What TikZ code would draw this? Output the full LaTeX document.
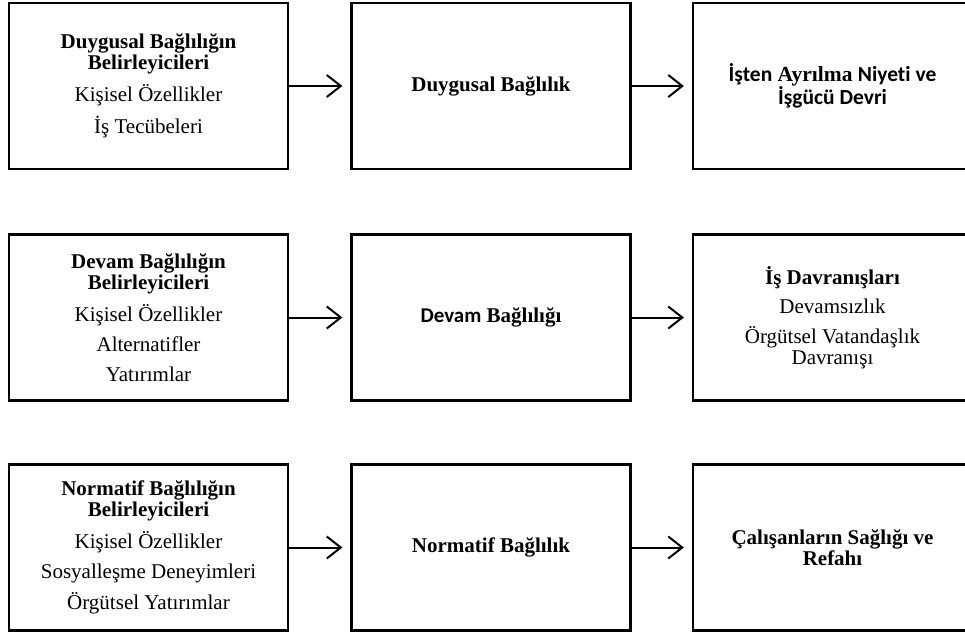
\documentclass[tikz,border=0pt]{standalone}
\usepackage{fontspec}
\setmainfont{Liberation Serif}
\newfontfamily\calfont[Ligatures=NoCommon]{Carlito}
\usetikzlibrary{arrows.meta}
\begin{document}
\begin{tikzpicture}[x=1pt,y=-1pt,
  box/.style={draw, line width=2.2pt, minimum width=279pt, minimum height=166pt,
    inner sep=0pt, align=center, font=\fontsize{21}{21}\selectfont},
  conn/.style={line width=2pt, -{Straight Barb[length=14pt,width=22pt,line width=2pt]}, shorten >=8pt}]
\clip (0,0) rectangle (965,634);
\fill[white] (0,0) rectangle (965,634);
% row 1
\node[box] (a1) at (148.5,86) {\textbf{Duygusal Bağlılığın}\\ \textbf{Belirleyicileri}\\[9pt] Kişisel Özellikler\\[9pt] İş Tecübeleri};
\node[box] (b1) at (491,86) {\textbf{Duygusal Bağlılık}};
\node[box, font=\fontsize{21.5}{18.5}\selectfont] (c1) at (832.5,86) {{\calfont\bfseries İşten} \textbf{Ayrılma} {\calfont\bfseries Niyeti ve}\\ {\calfont\bfseries İşgücü Devri}};
% row 2
\node[box] (a2) at (148.5,317.5) {\textbf{Devam Bağlılığın}\\ \textbf{Belirleyicileri}\\[9pt] Kişisel Özellikler\\[9pt] Alternatifler\\[9pt] Yatırımlar};
\node[box] (b2) at (491,317.5) {{\calfont\bfseries Devam} \textbf{Bağlılığı}};
\node[box] (c2) at (832.5,317.5) {\textbf{İş Davranışları}\\[8pt] Devamsızlık\\[9pt] Örgütsel Vatandaşlık\\ Davranışı};
% row 3
\node[box] (a3) at (148.5,547.5) {\textbf{Normatif Bağlılığın}\\ \textbf{Belirleyicileri}\\[9pt] Kişisel Özellikler\\[9pt] Sosyalleşme Deneyimleri\\[9pt] Örgütsel Yatırımlar};
\node[box] (b3) at (491,547.5) {\textbf{Normatif Bağlılık}};
\node[box] (c3) at (832.5,547.5) {\textbf{Çalışanların Sağlığı ve}\\ \textbf{Refahı}};
% connectors
\draw[conn] (a1) -- (b1);
\draw[conn] (b1) -- (c1);
\draw[conn] (a2) -- (b2);
\draw[conn] (b2) -- (c2);
\draw[conn] (a3) -- (b3);
\draw[conn] (b3) -- (c3);
\end{tikzpicture}
\end{document}
